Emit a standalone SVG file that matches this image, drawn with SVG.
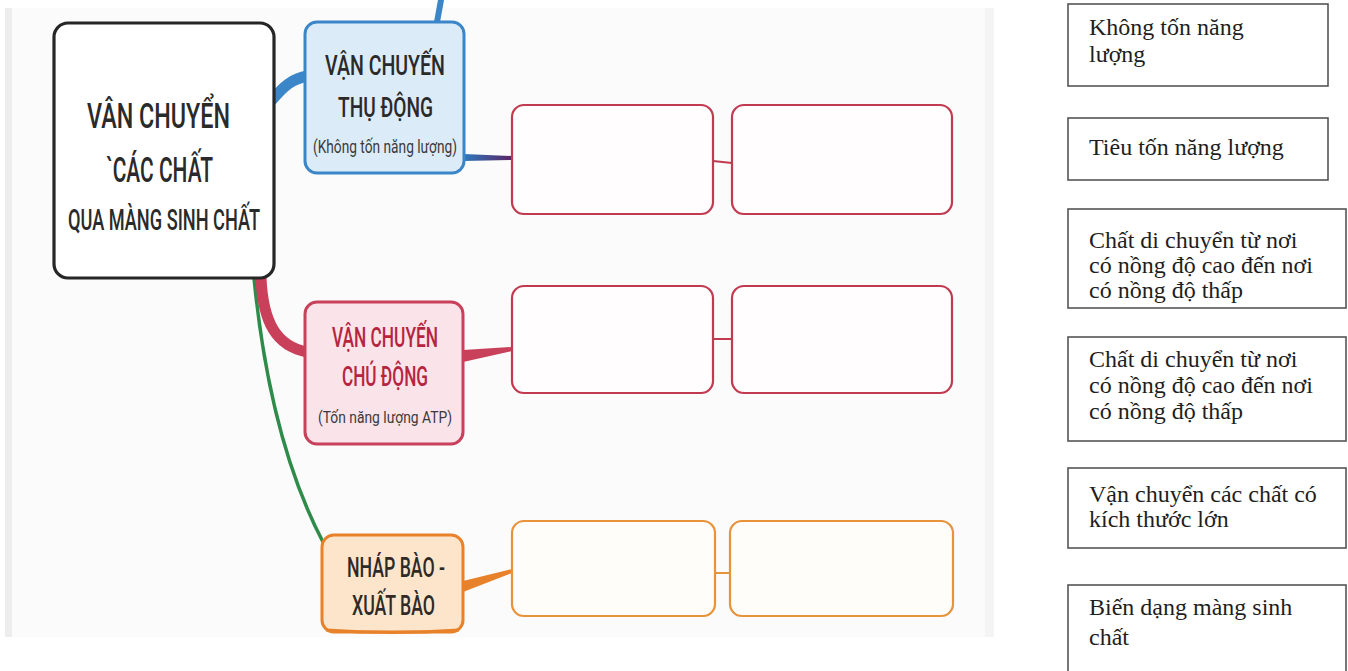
<svg xmlns="http://www.w3.org/2000/svg" width="1348" height="671" viewBox="0 0 1348 671">
<defs>
<style>
.mm{font-family:Roboto,"Open Sans","Noto Sans",sans-serif;text-anchor:middle}
.t{font-family:"Liberation Serif","Times New Roman",serif;font-size:24px;fill:#1e1e1e}
.abox{fill:#fff;stroke:#555;stroke-width:1.6}
.rbox{fill:#fffdfd;stroke:#c23a50;stroke-width:2.2}
.obox{fill:#fffdfa;stroke:#e8923a;stroke-width:2.2}
</style>
<linearGradient id="bp" x1="0" y1="0" x2="1" y2="0">
<stop offset="0" stop-color="#2f78bd"/><stop offset="1" stop-color="#5a2464"/>
</linearGradient>
<clipPath id="c3"><rect x="1068" y="209" width="280" height="94"/></clipPath>
</defs>
<rect width="1348" height="671" fill="#fff"/>
<rect x="5" y="8" width="988" height="629" fill="#fbfbfb"/>
<rect x="5" y="8" width="7" height="629" fill="#ededed"/>
<rect x="985" y="8" width="9" height="629" fill="#f4f4f4"/>

<g id="connectors" fill="none" stroke-linecap="round">
<path d="M437,22 L441,0" stroke="#3a86c8" stroke-width="6"/>
<path d="M272,100 C284,86 292,79 307,76" stroke="#3a86c8" stroke-width="11"/>
<path d="M464,154 L512,156 L512,160 L464,161 Z" fill="url(#bp)" stroke="none"/>
<path d="M254,278 C262,360 280,460 323,542" stroke="#2e8b4a" stroke-width="3.5"/>
<path d="M261,278 C263,322 276,346 307,352" stroke="#c8405a" stroke-width="11"/>
<path d="M463,350 L512,347 L512,351 L463,362 Z" fill="#c8405a" stroke="none"/>
<path d="M463,581 L512,569 L512,573 L463,592 Z" fill="#e8822a" stroke="none"/>
<path d="M713,161 L732,163" stroke="#c23a50" stroke-width="2"/>
<path d="M713,339 L732,339" stroke="#c23a50" stroke-width="2"/>
<path d="M715,573 L730,573" stroke="#e8923a" stroke-width="2"/>
</g>

<g id="central">
<rect x="54" y="23" width="220" height="255" rx="14" fill="#fff" stroke="#262626" stroke-width="3.2"/>
<text class="mm" x="158.5" y="128" font-size="35" font-weight="500" fill="#2a2a2a" textLength="143" lengthAdjust="spacingAndGlyphs">VÂN CHUYỂN</text>
<text class="mm" x="159.5" y="182" font-size="35" font-weight="500" fill="#2a2a2a" textLength="107" lengthAdjust="spacingAndGlyphs">`CÁC CHẤT</text>
<text class="mm" x="164" y="230" font-size="30" font-weight="500" fill="#2a2a2a" textLength="192" lengthAdjust="spacingAndGlyphs">QUA MÀNG SINH CHẤT</text>
</g>

<g id="thu-dong">
<rect x="305" y="22" width="159" height="151" rx="12" fill="#dcebf8" stroke="#3a86c8" stroke-width="3"/>
<text class="mm" x="385" y="75" font-size="28" font-weight="500" fill="#2a2a2a" textLength="120" lengthAdjust="spacingAndGlyphs">VẬN CHUYẾN</text>
<text class="mm" x="385.5" y="117" font-size="28" font-weight="500" fill="#2a2a2a" textLength="95" lengthAdjust="spacingAndGlyphs">THỤ ĐỘNG</text>
<text class="mm" x="385" y="153" font-size="18" fill="#3a3a3a" textLength="144" lengthAdjust="spacingAndGlyphs">(Không tốn năng lượng)</text>
</g>

<g id="chu-dong">
<rect x="305" y="302" width="158" height="142" rx="12" fill="#fbe3ea" stroke="#c8405a" stroke-width="3"/>
<text class="mm" x="385" y="347" font-size="27" font-weight="500" fill="#b5253f" textLength="106" lengthAdjust="spacingAndGlyphs">VẬN CHUYẾN</text>
<text class="mm" x="385" y="386" font-size="27" font-weight="500" fill="#b5253f" textLength="86" lengthAdjust="spacingAndGlyphs">CHÚ ĐỘNG</text>
<text class="mm" x="385" y="423" font-size="17" fill="#3a3a3a" textLength="134" lengthAdjust="spacingAndGlyphs">(Tốn năng lượng ATP)</text>
</g>

<g id="nhap-xuat-bao">
<rect x="322" y="535" width="141" height="97" rx="12" fill="#fde5cc" stroke="#e8822a" stroke-width="3"/>
<path d="M326,630 Q392,635 459,630" fill="none" stroke="#e8822a" stroke-width="3"/>
<text class="mm" x="396" y="577" font-size="28" font-weight="500" fill="#2e2a26" textLength="98" lengthAdjust="spacingAndGlyphs">NHÁP BÀO -</text>
<text class="mm" x="393.5" y="615" font-size="28" font-weight="500" fill="#2e2a26" textLength="83" lengthAdjust="spacingAndGlyphs">XUẤT BÀO</text>
</g>

<g id="blank-1a"><rect class="rbox" x="512" y="105" width="201" height="109" rx="12"/></g>
<g id="blank-1b"><rect class="rbox" x="732" y="105" width="220" height="109" rx="12"/></g>
<g id="blank-2a"><rect class="rbox" x="512" y="286" width="201" height="107" rx="12"/></g>
<g id="blank-2b"><rect class="rbox" x="732" y="286" width="220" height="107" rx="12"/></g>
<g id="blank-3a"><rect class="obox" x="512" y="521" width="203" height="95" rx="12"/></g>
<g id="blank-3b"><rect class="obox" x="730" y="521" width="223" height="95" rx="12"/></g>

<g id="opt-1">
<rect class="abox" x="1068" y="4" width="260" height="82"/>
<text class="t" x="1089" y="35">Không tốn năng</text>
<text class="t" x="1089" y="62">lượng</text>
</g>
<g id="opt-2">
<rect class="abox" x="1068" y="118" width="260" height="62"/>
<text class="t" x="1089" y="155">Tiêu tốn năng lượng</text>
</g>
<g id="opt-3">
<rect class="abox" x="1068" y="209" width="278" height="99"/>
<text class="t" x="1089" y="248">Chất di chuyển từ nơi</text>
<text class="t" x="1089" y="273">có nồng độ cao đến nơi</text>
<text class="t" x="1089" y="298" clip-path="url(#c3)">có nồng độ thấp</text>
</g>
<g id="opt-4">
<rect class="abox" x="1068" y="337" width="278" height="104"/>
<text class="t" x="1089" y="367">Chất di chuyển từ nơi</text>
<text class="t" x="1089" y="393">có nồng độ cao đến nơi</text>
<text class="t" x="1089" y="419">có nồng độ thấp</text>
</g>
<g id="opt-5">
<rect class="abox" x="1068" y="468" width="278" height="80"/>
<text class="t" x="1089" y="502">Vận chuyển các chất có</text>
<text class="t" x="1089" y="527">kích thước lớn</text>
</g>
<g id="opt-6">
<rect class="abox" x="1068" y="585" width="278" height="100"/>
<text class="t" x="1089" y="615">Biến dạng màng sinh</text>
<text class="t" x="1089" y="645">chất</text>
</g>
</svg>
